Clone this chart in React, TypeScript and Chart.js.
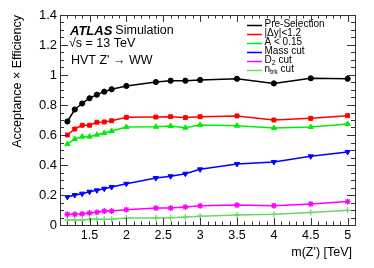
import React, { useEffect, useRef } from "react";
import { Chart, registerables } from "chart.js";

Chart.register(...registerables);

const masses = [1.2, 1.3, 1.4, 1.5, 1.6, 1.7, 1.8, 2.0, 2.4, 2.6, 2.8, 3.0, 3.5, 4.0, 4.5, 5.0];
const preSelection = [0.69, 0.77, 0.81, 0.845, 0.869, 0.889, 0.905, 0.927, 0.953, 0.962, 0.962, 0.967, 0.975, 0.944, 0.978, 0.975];
const dyCut = [0.6, 0.64, 0.665, 0.665, 0.685, 0.687, 0.695, 0.718, 0.72, 0.722, 0.716, 0.722, 0.727, 0.7, 0.711, 0.729];
const aCut = [0.54, 0.573, 0.589, 0.589, 0.602, 0.613, 0.627, 0.653, 0.655, 0.66, 0.649, 0.667, 0.662, 0.647, 0.653, 0.673];
const massCut = [0.187, 0.2, 0.209, 0.222, 0.231, 0.242, 0.253, 0.275, 0.313, 0.325, 0.342, 0.371, 0.407, 0.42, 0.458, 0.487];
const d2Cut = [0.071, 0.071, 0.075, 0.08, 0.085, 0.093, 0.093, 0.102, 0.113, 0.113, 0.12, 0.128, 0.133, 0.129, 0.14, 0.156];
const ntrkCut = [0.033, 0.033, 0.033, 0.038, 0.038, 0.038, 0.038, 0.047, 0.047, 0.049, 0.053, 0.059, 0.067, 0.071, 0.084, 0.098];

const yTickValues = [0, 0.2, 0.4, 0.6, 0.8, 1.0, 1.2, 1.4];
const yTickLabels = ["0", "0.2", "0.4", "0.6", "0.8", "1", "1.2", "1.4"];
const xTickValues = [1.5, 2, 2.5, 3, 3.5, 4, 4.5, 5];
const xTickLabels = ["1.5", "2", "2.5", "3", "3.5", "4", "4.5", "5"];

const X_MIN = 1.1;
const X_MAX = 5.1;
const Y_MIN = 0;
const Y_MAX = 1.4;

type Seg = { t: string; sub?: boolean };
const legendEntries: { segs: Seg[]; color: string }[] = [
  { segs: [{ t: "Pre-Selection" }], color: "#000000" },
  { segs: [{ t: "|Δy|<1.2" }], color: "#ff0000" },
  { segs: [{ t: "A < 0.15" }], color: "#00ee00" },
  { segs: [{ t: "Mass cut" }], color: "#0000ff" },
  { segs: [{ t: "D" }, { t: "2", sub: true }, { t: " cut" }], color: "#ff00ff" },
  { segs: [{ t: "n" }, { t: "trk", sub: true }, { t: " cut" }], color: "#66d966" },
];

const FONT = "'Liberation Sans', Arial, Helvetica, sans-serif";

const decorPlugin = {
  id: "rootStyle",
  afterDraw(chart: any) {
    const ctx = chart.ctx as CanvasRenderingContext2D;
    const xs = chart.scales.x;
    const ys = chart.scales.y;
    const { left, right, top, bottom } = chart.chartArea;
    ctx.save();
    // frame
    ctx.strokeStyle = "#333333";
    ctx.lineWidth = 1;
    ctx.strokeRect(Math.round(left) + 0.5, Math.round(top) + 0.5, Math.round(right - left), Math.round(bottom - top));
    // y ticks
    ctx.beginPath();
    for (let i = 0; i <= 28; i++) {
      const v = i * 0.05;
      const py = Math.round(ys.getPixelForValue(v)) + 0.5;
      const len = i % 4 === 0 ? 8 : 4;
      ctx.moveTo(left, py);
      ctx.lineTo(left + len, py);
      ctx.moveTo(right, py);
      ctx.lineTo(right - len, py);
    }
    // x ticks
    for (let i = 0; i <= 40; i++) {
      const v = X_MIN + i * 0.1;
      const px = Math.round(xs.getPixelForValue(v)) + 0.5;
      const major = Math.abs((v * 2) - Math.round(v * 2)) < 1e-6;
      const len = major ? 7 : 3.5;
      ctx.moveTo(px, bottom);
      ctx.lineTo(px, bottom - len);
      ctx.moveTo(px, top);
      ctx.lineTo(px, top + len);
    }
    ctx.stroke();

    // tick labels
    ctx.fillStyle = "#000";
    ctx.font = `13px ${FONT}`;
    ctx.textAlign = "right";
    ctx.textBaseline = "middle";
    yTickValues.forEach((v, i) => {
      ctx.fillText(yTickLabels[i], left - 3, ys.getPixelForValue(v) + 0.5);
    });
    ctx.font = `12.5px ${FONT}`;
    ctx.textAlign = "center";
    ctx.textBaseline = "top";
    xTickValues.forEach((v, i) => {
      ctx.fillText(xTickLabels[i], xs.getPixelForValue(v), bottom + 4);
    });

    // axis titles
    ctx.font = `12.5px ${FONT}`;
    ctx.textAlign = "right";
    ctx.textBaseline = "middle";
    ctx.fillText("m(Z') [TeV]", right - 3, 253);
    ctx.save();
    ctx.translate(18, top);
    ctx.rotate(-Math.PI / 2);
    ctx.textAlign = "right";
    ctx.textBaseline = "middle";
    ctx.fillText("Acceptance × Efficiency", 0, 0);
    ctx.restore();

    // ATLAS label
    ctx.textAlign = "left";
    ctx.textBaseline = "middle";
    ctx.font = `italic bold 13px ${FONT}`;
    ctx.fillText("ATLAS", 70, 31);
    const w = ctx.measureText("ATLAS").width;
    ctx.font = `12.5px ${FONT}`;
    ctx.fillText("Simulation", 70 + w + 3, 31);
    ctx.fillText("√s = 13 TeV", 69, 43.5);
    ctx.fillText("HVT Z' → WW", 71, 61);

    // legend
    legendEntries.forEach((e, i) => {
      const y = 24.5 + i * 9;
      ctx.strokeStyle = e.color;
      ctx.lineWidth = 1.5;
      ctx.beginPath();
      ctx.moveTo(247, y + 1);
      ctx.lineTo(262, y + 1);
      ctx.stroke();
      ctx.fillStyle = "#000";
      let x = 264.5;
      e.segs.forEach((s) => {
        if (s.sub) {
          ctx.font = `7px ${FONT}`;
          ctx.fillText(s.t, x, y + 3);
        } else {
          ctx.font = `10px ${FONT}`;
          ctx.fillText(s.t, x, y);
        }
        x += ctx.measureText(s.t).width;
      });
    });
    ctx.restore();
  },
};

function mk(label: string, values: number[], color: string, style: string, radius: number, rotation = 0) {
  return {
    label,
    data: masses.map((m, i) => ({ x: m, y: values[i] })),
    borderColor: color,
    backgroundColor: color,
    pointBorderColor: color,
    pointBackgroundColor: color,
    borderWidth: 1.5,
    pointStyle: style,
    pointRadius: radius,
    pointRotation: rotation,
    pointBorderWidth: style === "cross" || style === "star" ? 1.3 : 1,
    tension: 0,
    fill: false,
  };
}

export default function App() {
  const ref = useRef<HTMLCanvasElement>(null);
  useEffect(() => {
    if (!ref.current) return;
    const chart = new Chart(ref.current, {
      type: "line",
      data: {
        datasets: [
          mk("Pre-Selection", preSelection, "#000000", "circle", 2.6),
          mk("|Δy|<1.2", dyCut, "#ff0000", "rect", 2.8),
          mk("A < 0.15", aCut, "#00ee00", "triangle", 3),
          mk("Mass cut", massCut, "#0000ff", "triangle", 3, 180),
          mk("D2 cut", d2Cut, "#ff00ff", "star", 3),
          mk("ntrk cut", ntrkCut, "#66d966", "cross", 3),
        ] as any,
      },
      options: {
        responsive: false,
        animation: false,
        layout: { padding: { left: 60, right: 19, top: 15, bottom: 43 } },
        plugins: { legend: { display: false }, tooltip: { enabled: false } },
        scales: {
          x: { type: "linear", min: X_MIN, max: X_MAX, display: false },
          y: { type: "linear", min: Y_MIN, max: Y_MAX, display: false },
        },
      },
      plugins: [decorPlugin],
    });
    return () => chart.destroy();
  }, []);
  return (
    <div style={{ position: "fixed", left: 0, top: 0, width: 374, height: 268, background: "#fff" }}>
      <canvas ref={ref} width={374} height={268} />
    </div>
  );
}
